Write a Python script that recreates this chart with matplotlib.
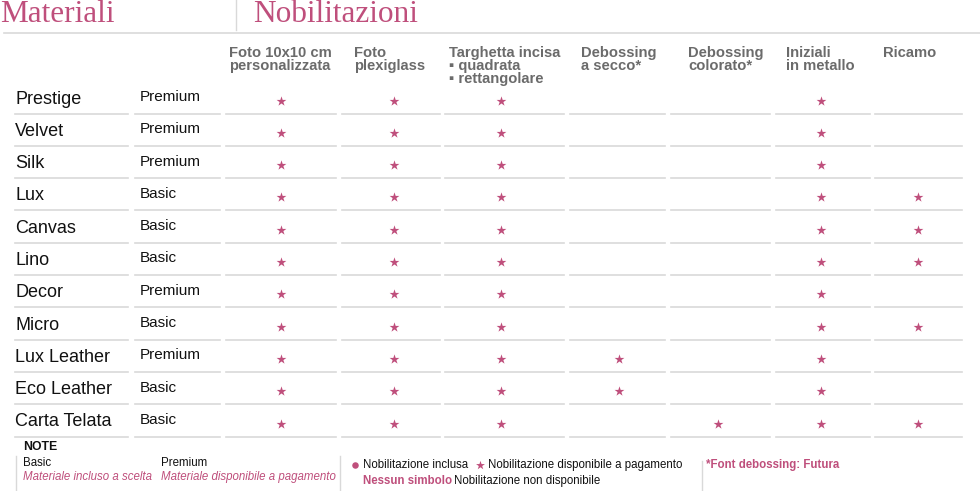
import numpy as np
import matplotlib
matplotlib.use("Agg")
import matplotlib.pyplot as plt

# dati della tabella
materiali = ["Prestige", "Velvet", "Silk", "Lux", "Canvas", "Lino", "Decor",
             "Micro", "Lux Leather", "Eco Leather", "Carta Telata"]
tipi = ["Premium", "Premium", "Premium", "Basic", "Basic", "Basic", "Premium",
        "Basic", "Premium", "Basic", "Basic"]
colonne = [["Foto 10x10 cm", "personalizzata"],
           ["Foto", "plexiglass"],
           ["Targhetta incisa", "\u25aa quadrata", "\u25aa rettangolare"],
           ["Debossing", "a secco*"],
           ["Debossing", "colorato*"],
           ["Iniziali", "in metallo"],
           ["Ricamo"]]
# 1 = nobilitazione disponibile a pagamento (stella), 0 = non disponibile
disponibile = np.array([
    [1, 1, 1, 0, 0, 1, 0],
    [1, 1, 1, 0, 0, 1, 0],
    [1, 1, 1, 0, 0, 1, 0],
    [1, 1, 1, 0, 0, 1, 1],
    [1, 1, 1, 0, 0, 1, 1],
    [1, 1, 1, 0, 0, 1, 1],
    [1, 1, 1, 0, 0, 1, 0],
    [1, 1, 1, 0, 0, 1, 1],
    [1, 1, 1, 1, 0, 1, 0],
    [1, 1, 1, 1, 0, 1, 0],
    [1, 1, 1, 0, 1, 1, 1],
])

PINK = "#bf4f7c"
GRAY = "#6b6b6b"
LINE = "#d9d9d9"
SANS = ["Liberation Sans", "DejaVu Sans"]

fig = plt.figure(figsize=(9.8, 4.91), dpi=100)
ax = fig.add_axes([0, 0, 1, 1])
ax.set_xlim(0, 980)
ax.set_ylim(491, 0)
ax.axis("off")

# titoli
ax.text(0, 22, "Materiali", color=PINK, fontsize=22.5, family="Liberation Serif", va="baseline")
ax.text(253, 22, "Nobilitazioni", color=PINK, fontsize=22.5, family="Liberation Serif", va="baseline")
ax.plot([236, 236], [0, 30], color=LINE, lw=1)
ax.plot([4, 980], [33, 33], color=LINE, lw=1.2)

# intestazioni colonne
col_x = [229, 354, 449, 581, 688, 786, 883]
for x, righe in zip(col_x, colonne):
    for k, r in enumerate(righe):
        ax.text(x, 57 + k * 13, r, color=GRAY, fontsize=10.6, fontweight="bold",
                family=SANS, va="baseline")

# segmenti orizzontali per ogni colonna
seg = [(15, 128), (135, 220), (226, 336), (342, 440), (445, 564),
       (570, 665), (671, 770), (776, 870), (875, 962)]
star_x = [281, 394, 501, 619, 718, 821, 918]
row_h = 32.3
row_y = 99 + np.arange(len(materiali)) * row_h
for i, (nome, tipo) in enumerate(zip(materiali, tipi)):
    y = row_y[i]
    ax.text(15, y, nome, fontsize=13, family=SANS, va="center", color="#111111")
    ax.text(140, y - 2, tipo, fontsize=11, family=SANS, va="center", color="#111111")
    for a, b in seg:
        ax.plot([a, b], [y + 14.5, y + 14.5], color=LINE, lw=1.2)

rr, cc = np.nonzero(disponibile)
ax.scatter(np.array(star_x)[cc], row_y[rr] + 1.5, marker="*", s=55, color=PINK, lw=0)

# note
fs = 8.3
ax.text(23, 447, "NOTE", fontsize=8.8, fontweight="bold", family=SANS, va="center", color="#111111")
ax.plot([16, 16], [456, 490], color=LINE, lw=1)
ax.text(23, 463, "Basic", fontsize=fs, family=SANS, va="center", color="#111111")
ax.text(23, 477, "Materiale incluso a scelta", fontsize=fs, family=SANS, style="italic",
        va="center", color=PINK)
ax.text(161, 463, "Premium", fontsize=fs, family=SANS, va="center", color="#111111")
ax.text(161, 477, "Materiale disponibile a pagamento", fontsize=fs, family=SANS,
        style="italic", va="center", color=PINK)
ax.plot([340, 340], [456, 490], color=LINE, lw=1)
ax.scatter([355], [465], marker="o", s=22, color=PINK, lw=0)
ax.text(363, 465, "Nobilitazione inclusa", fontsize=fs, family=SANS, va="center", color="#111111")
ax.scatter([480], [465], marker="*", s=45, color=PINK, lw=0)
ax.text(488, 465, "Nobilitazione disponibile a pagamento", fontsize=fs, family=SANS,
        va="center", color="#111111")
ax.text(363, 481, "Nessun simbolo", fontsize=fs, family=SANS, fontweight="bold",
        va="center", color=PINK)
ax.text(454, 481, "Nobilitazione non disponibile", fontsize=fs, family=SANS,
        va="center", color="#111111")
ax.plot([702, 702], [461, 490], color=LINE, lw=1)
ax.text(706, 465, "*Font debossing: Futura", fontsize=fs, family=SANS, fontweight="bold",
        va="center", color=PINK)

fig.savefig("out.png", dpi=100)
